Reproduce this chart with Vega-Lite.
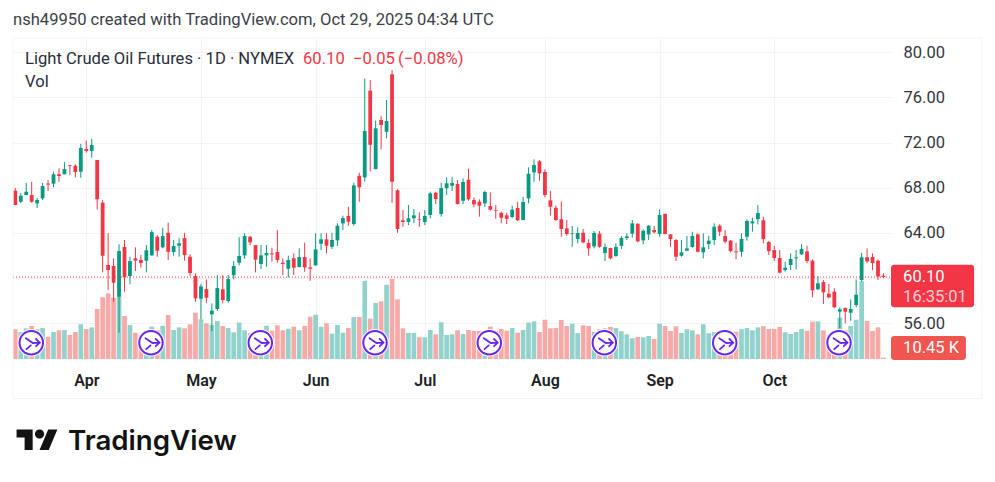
{
  "$schema": "https://vega.github.io/schema/vega-lite/v6.json",
  "description": "Light Crude Oil Futures daily candles with volume, TradingView snapshot.",
  "width": 878,
  "height": 322,
  "autosize": "none",
  "padding": {"left": 13, "top": 38, "right": 104, "bottom": 122},
  "background": "#ffffff",
  "config": {"font": "Roboto", "view": {"stroke": null}},
  "title": {
    "text": "nsh49950 created with TradingView.com, Oct 29, 2025 04:34 UTC",
    "anchor": "start",
    "frame": "group",
    "font": "Roboto",
    "fontSize": 16.6,
    "fontWeight": "normal",
    "color": "#3c3f48",
    "offset": 9
  },
  "datasets": {
    "candles": [
      {"i":0,"o":67.74,"h":67.97,"l":66.47,"c":66.47,"v":222,"d":"down"},
      {"i":1,"o":66.76,"h":67.53,"l":66.65,"c":67.29,"v":201,"d":"up"},
      {"i":2,"o":67.36,"h":68.42,"l":67.36,"c":67.65,"v":229,"d":"up"},
      {"i":3,"o":67.36,"h":68.53,"l":66.68,"c":66.76,"v":246,"d":"down"},
      {"i":4,"o":66.62,"h":67.09,"l":66.21,"c":66.91,"v":222,"d":"up"},
      {"i":5,"o":67.06,"h":68.44,"l":66.91,"c":68.15,"v":231,"d":"up"},
      {"i":6,"o":68.37,"h":68.68,"l":67.71,"c":68.28,"v":166,"d":"down"},
      {"i":7,"o":68.36,"h":69.42,"l":68.04,"c":69.19,"v":201,"d":"up"},
      {"i":8,"o":69.19,"h":69.72,"l":68.53,"c":69.04,"v":214,"d":"down"},
      {"i":9,"o":69.19,"h":70.27,"l":69.19,"c":69.65,"v":216,"d":"up"},
      {"i":10,"o":70.01,"h":70.04,"l":69.15,"c":69.95,"v":179,"d":"down"},
      {"i":11,"o":69.95,"h":70.07,"l":68.92,"c":69.39,"v":201,"d":"down"},
      {"i":12,"o":69.42,"h":71.87,"l":68.89,"c":71.51,"v":259,"d":"up"},
      {"i":13,"o":71.42,"h":72.16,"l":71.10,"c":71.25,"v":224,"d":"down"},
      {"i":14,"o":71.25,"h":72.33,"l":70.65,"c":71.78,"v":236,"d":"up"},
      {"i":15,"o":70.45,"h":70.45,"l":66.09,"c":66.98,"v":373,"d":"down"},
      {"i":16,"o":66.68,"h":66.91,"l":60.52,"c":61.99,"v":460,"d":"down"},
      {"i":17,"o":61.17,"h":63.97,"l":58.96,"c":60.72,"v":490,"d":"down"},
      {"i":18,"o":61.08,"h":61.76,"l":57.92,"c":59.60,"v":457,"d":"down"},
      {"i":19,"o":58.36,"h":63.00,"l":55.18,"c":62.40,"v":465,"d":"up"},
      {"i":20,"o":62.76,"h":63.38,"l":58.81,"c":60.08,"v":321,"d":"down"},
      {"i":21,"o":60.19,"h":61.90,"l":59.46,"c":61.52,"v":254,"d":"up"},
      {"i":22,"o":61.76,"h":62.73,"l":60.64,"c":61.55,"v":196,"d":"down"},
      {"i":23,"o":61.61,"h":62.05,"l":60.93,"c":61.34,"v":179,"d":"down"},
      {"i":24,"o":61.55,"h":62.93,"l":60.52,"c":62.47,"v":216,"d":"up"},
      {"i":25,"o":62.02,"h":64.26,"l":61.99,"c":64.08,"v":241,"d":"up"},
      {"i":26,"o":63.67,"h":63.82,"l":61.90,"c":62.43,"v":216,"d":"down"},
      {"i":27,"o":62.73,"h":64.46,"l":62.64,"c":63.73,"v":248,"d":"up"},
      {"i":28,"o":64.02,"h":64.91,"l":61.61,"c":62.34,"v":328,"d":"down"},
      {"i":29,"o":62.32,"h":63.38,"l":61.99,"c":62.85,"v":216,"d":"up"},
      {"i":30,"o":62.87,"h":63.53,"l":61.90,"c":63.09,"v":236,"d":"up"},
      {"i":31,"o":63.55,"h":64.02,"l":61.55,"c":62.05,"v":229,"d":"down"},
      {"i":32,"o":61.90,"h":62.11,"l":60.19,"c":60.46,"v":259,"d":"down"},
      {"i":33,"o":60.19,"h":60.43,"l":57.92,"c":58.22,"v":345,"d":"down"},
      {"i":34,"o":58.19,"h":59.49,"l":56.37,"c":59.28,"v":296,"d":"up"},
      {"i":35,"o":59.04,"h":59.90,"l":57.83,"c":58.28,"v":266,"d":"down"},
      {"i":36,"o":56.81,"h":57.78,"l":55.33,"c":57.13,"v":254,"d":"up"},
      {"i":37,"o":57.28,"h":60.28,"l":57.10,"c":59.13,"v":283,"d":"up"},
      {"i":38,"o":59.02,"h":60.28,"l":57.78,"c":58.07,"v":246,"d":"down"},
      {"i":39,"o":57.98,"h":60.28,"l":57.84,"c":59.93,"v":231,"d":"up"},
      {"i":40,"o":60.26,"h":61.52,"l":59.90,"c":61.08,"v":199,"d":"up"},
      {"i":41,"o":61.37,"h":63.62,"l":61.14,"c":61.96,"v":271,"d":"up"},
      {"i":42,"o":62.02,"h":63.97,"l":61.72,"c":63.73,"v":214,"d":"up"},
      {"i":43,"o":63.67,"h":63.73,"l":62.93,"c":63.17,"v":192,"d":"down"},
      {"i":44,"o":62.93,"h":62.93,"l":60.52,"c":61.64,"v":192,"d":"down"},
      {"i":45,"o":61.26,"h":62.93,"l":60.81,"c":62.02,"v":216,"d":"up"},
      {"i":46,"o":62.02,"h":62.93,"l":61.02,"c":62.23,"v":248,"d":"up"},
      {"i":47,"o":62.20,"h":62.70,"l":61.46,"c":62.11,"v":211,"d":"down"},
      {"i":48,"o":62.32,"h":64.26,"l":61.37,"c":61.61,"v":251,"d":"down"},
      {"i":49,"o":61.37,"h":61.76,"l":60.28,"c":61.26,"v":214,"d":"down"},
      {"i":50,"o":60.84,"h":61.99,"l":60.08,"c":61.61,"v":226,"d":"up"},
      {"i":51,"o":61.76,"h":62.20,"l":60.28,"c":60.93,"v":241,"d":"down"},
      {"i":52,"o":60.99,"h":62.64,"l":60.96,"c":61.87,"v":214,"d":"up"},
      {"i":53,"o":61.87,"h":63.14,"l":60.57,"c":60.96,"v":248,"d":"down"},
      {"i":54,"o":60.96,"h":61.76,"l":59.78,"c":60.84,"v":316,"d":"down"},
      {"i":55,"o":61.14,"h":63.97,"l":61.10,"c":62.55,"v":330,"d":"up"},
      {"i":56,"o":63.05,"h":63.97,"l":62.49,"c":63.44,"v":241,"d":"up"},
      {"i":57,"o":63.44,"h":63.97,"l":62.20,"c":62.87,"v":266,"d":"down"},
      {"i":58,"o":62.78,"h":64.02,"l":62.58,"c":63.38,"v":189,"d":"up"},
      {"i":59,"o":63.35,"h":64.85,"l":62.85,"c":64.64,"v":254,"d":"up"},
      {"i":60,"o":64.85,"h":65.53,"l":64.26,"c":65.32,"v":196,"d":"up"},
      {"i":61,"o":65.50,"h":66.32,"l":64.64,"c":65.00,"v":231,"d":"down"},
      {"i":62,"o":64.79,"h":68.44,"l":64.64,"c":68.21,"v":313,"d":"up"},
      {"i":63,"o":69.06,"h":69.33,"l":66.76,"c":68.04,"v":313,"d":"down"},
      {"i":64,"o":68.92,"h":77.64,"l":68.53,"c":73.01,"v":584,"d":"up"},
      {"i":65,"o":76.58,"h":77.52,"l":69.42,"c":71.80,"v":301,"d":"down"},
      {"i":66,"o":69.65,"h":73.93,"l":69.63,"c":73.25,"v":418,"d":"up"},
      {"i":67,"o":73.99,"h":74.34,"l":71.40,"c":73.55,"v":430,"d":"down"},
      {"i":68,"o":72.95,"h":75.76,"l":72.37,"c":73.90,"v":554,"d":"up"},
      {"i":69,"o":78.03,"h":78.41,"l":66.68,"c":68.53,"v":597,"d":"down"},
      {"i":70,"o":67.77,"h":67.86,"l":64.02,"c":64.35,"v":445,"d":"down"},
      {"i":71,"o":65.12,"h":66.03,"l":64.55,"c":64.97,"v":229,"d":"down"},
      {"i":72,"o":64.97,"h":66.47,"l":64.70,"c":65.30,"v":194,"d":"up"},
      {"i":73,"o":65.30,"h":66.12,"l":64.85,"c":65.56,"v":194,"d":"up"},
      {"i":74,"o":65.23,"h":65.83,"l":64.55,"c":65.17,"v":162,"d":"down"},
      {"i":75,"o":64.97,"h":66.03,"l":64.70,"c":65.50,"v":162,"d":"up"},
      {"i":76,"o":65.59,"h":67.65,"l":65.30,"c":67.51,"v":216,"d":"up"},
      {"i":77,"o":67.56,"h":67.65,"l":66.56,"c":67.00,"v":184,"d":"down"},
      {"i":78,"o":65.68,"h":68.44,"l":65.44,"c":67.97,"v":274,"d":"up"},
      {"i":79,"o":67.95,"h":68.92,"l":67.36,"c":68.39,"v":179,"d":"up"},
      {"i":80,"o":68.18,"h":68.97,"l":67.71,"c":68.42,"v":184,"d":"up"},
      {"i":81,"o":68.33,"h":68.68,"l":66.53,"c":66.56,"v":214,"d":"down"},
      {"i":82,"o":66.85,"h":68.83,"l":66.56,"c":68.51,"v":187,"d":"up"},
      {"i":83,"o":68.71,"h":69.68,"l":66.85,"c":66.98,"v":216,"d":"down"},
      {"i":84,"o":66.91,"h":67.15,"l":66.27,"c":66.53,"v":211,"d":"down"},
      {"i":85,"o":66.76,"h":66.98,"l":65.44,"c":66.41,"v":209,"d":"down"},
      {"i":86,"o":66.62,"h":67.74,"l":66.32,"c":67.62,"v":204,"d":"up"},
      {"i":87,"o":66.38,"h":67.59,"l":65.97,"c":66.06,"v":241,"d":"down"},
      {"i":88,"o":66.03,"h":66.47,"l":65.26,"c":65.97,"v":211,"d":"down"},
      {"i":89,"o":65.79,"h":65.88,"l":64.85,"c":65.35,"v":224,"d":"down"},
      {"i":90,"o":65.56,"h":65.79,"l":64.79,"c":65.26,"v":211,"d":"down"},
      {"i":91,"o":65.41,"h":66.41,"l":65.30,"c":66.06,"v":231,"d":"up"},
      {"i":92,"o":66.21,"h":66.76,"l":65.06,"c":65.12,"v":196,"d":"down"},
      {"i":93,"o":65.15,"h":67.21,"l":65.12,"c":66.74,"v":216,"d":"up"},
      {"i":94,"o":67.06,"h":69.81,"l":66.62,"c":69.24,"v":271,"d":"up"},
      {"i":95,"o":69.36,"h":70.51,"l":68.53,"c":70.01,"v":281,"d":"up"},
      {"i":96,"o":70.34,"h":70.45,"l":68.62,"c":69.27,"v":201,"d":"down"},
      {"i":97,"o":69.39,"h":69.63,"l":67.15,"c":67.36,"v":293,"d":"down"},
      {"i":98,"o":66.89,"h":67.74,"l":65.53,"c":66.32,"v":229,"d":"down"},
      {"i":99,"o":66.23,"h":66.41,"l":65.06,"c":65.15,"v":231,"d":"down"},
      {"i":100,"o":65.21,"h":66.80,"l":63.67,"c":64.35,"v":291,"d":"down"},
      {"i":101,"o":64.41,"h":65.15,"l":63.76,"c":63.91,"v":246,"d":"down"},
      {"i":102,"o":63.94,"h":64.62,"l":62.78,"c":64.00,"v":263,"d":"up"},
      {"i":103,"o":63.47,"h":64.50,"l":63.09,"c":64.00,"v":194,"d":"up"},
      {"i":104,"o":64.02,"h":64.35,"l":63.09,"c":63.17,"v":251,"d":"down"},
      {"i":105,"o":63.11,"h":63.44,"l":61.99,"c":62.64,"v":246,"d":"down"},
      {"i":106,"o":62.82,"h":64.17,"l":62.64,"c":64.00,"v":201,"d":"up"},
      {"i":107,"o":63.94,"h":64.17,"l":62.70,"c":62.78,"v":222,"d":"down"},
      {"i":108,"o":62.23,"h":63.09,"l":61.52,"c":62.76,"v":229,"d":"up"},
      {"i":109,"o":62.67,"h":62.70,"l":61.67,"c":61.76,"v":239,"d":"down"},
      {"i":110,"o":61.96,"h":63.09,"l":61.90,"c":62.76,"v":231,"d":"up"},
      {"i":111,"o":62.87,"h":63.73,"l":62.58,"c":63.55,"v":207,"d":"up"},
      {"i":112,"o":63.55,"h":63.97,"l":63.38,"c":63.70,"v":184,"d":"up"},
      {"i":113,"o":63.94,"h":65.15,"l":63.58,"c":64.85,"v":154,"d":"up"},
      {"i":114,"o":64.82,"h":64.85,"l":63.17,"c":63.26,"v":164,"d":"down"},
      {"i":115,"o":63.35,"h":64.32,"l":63.00,"c":64.20,"v":162,"d":"up"},
      {"i":116,"o":63.88,"h":64.70,"l":63.38,"c":64.64,"v":172,"d":"up"},
      {"i":117,"o":64.26,"h":64.62,"l":63.97,"c":64.06,"v":149,"d":"down"},
      {"i":118,"o":63.91,"h":66.09,"l":63.67,"c":65.59,"v":263,"d":"up"},
      {"i":119,"o":65.68,"h":65.74,"l":63.88,"c":63.91,"v":246,"d":"down"},
      {"i":120,"o":63.88,"h":63.91,"l":62.78,"c":63.47,"v":209,"d":"down"},
      {"i":121,"o":63.38,"h":63.47,"l":61.52,"c":61.90,"v":244,"d":"down"},
      {"i":122,"o":61.99,"h":63.38,"l":61.90,"c":62.29,"v":194,"d":"up"},
      {"i":123,"o":62.43,"h":63.73,"l":62.40,"c":62.64,"v":222,"d":"up"},
      {"i":124,"o":62.76,"h":64.11,"l":62.70,"c":63.73,"v":214,"d":"up"},
      {"i":125,"o":63.88,"h":63.97,"l":62.29,"c":62.34,"v":184,"d":"down"},
      {"i":126,"o":62.29,"h":63.97,"l":61.76,"c":62.73,"v":259,"d":"up"},
      {"i":127,"o":63.02,"h":63.76,"l":62.58,"c":63.32,"v":192,"d":"up"},
      {"i":128,"o":63.38,"h":64.85,"l":62.93,"c":64.55,"v":201,"d":"up"},
      {"i":129,"o":64.64,"h":64.77,"l":63.73,"c":64.11,"v":192,"d":"down"},
      {"i":130,"o":63.73,"h":64.26,"l":63.09,"c":63.23,"v":192,"d":"down"},
      {"i":131,"o":63.32,"h":63.38,"l":62.29,"c":62.40,"v":204,"d":"down"},
      {"i":132,"o":62.37,"h":63.14,"l":61.67,"c":62.29,"v":204,"d":"down"},
      {"i":133,"o":62.34,"h":63.97,"l":61.90,"c":63.47,"v":222,"d":"up"},
      {"i":134,"o":63.67,"h":65.21,"l":63.32,"c":65.06,"v":231,"d":"up"},
      {"i":135,"o":64.85,"h":65.35,"l":64.11,"c":65.03,"v":214,"d":"up"},
      {"i":136,"o":65.23,"h":66.47,"l":64.77,"c":65.76,"v":236,"d":"up"},
      {"i":137,"o":65.12,"h":65.44,"l":63.09,"c":63.47,"v":244,"d":"down"},
      {"i":138,"o":63.20,"h":63.29,"l":62.05,"c":62.40,"v":224,"d":"down"},
      {"i":139,"o":62.49,"h":62.87,"l":61.55,"c":61.79,"v":224,"d":"down"},
      {"i":140,"o":61.79,"h":62.49,"l":60.43,"c":60.49,"v":239,"d":"down"},
      {"i":141,"o":60.72,"h":61.46,"l":60.57,"c":60.93,"v":199,"d":"up"},
      {"i":142,"o":61.17,"h":62.20,"l":60.72,"c":61.70,"v":187,"d":"up"},
      {"i":143,"o":61.76,"h":62.49,"l":60.79,"c":61.85,"v":201,"d":"up"},
      {"i":144,"o":62.11,"h":63.02,"l":62.05,"c":62.58,"v":224,"d":"up"},
      {"i":145,"o":62.37,"h":62.87,"l":61.32,"c":61.52,"v":211,"d":"down"},
      {"i":146,"o":61.55,"h":61.67,"l":58.31,"c":58.93,"v":278,"d":"down"},
      {"i":147,"o":59.02,"h":60.19,"l":58.96,"c":59.55,"v":281,"d":"up"},
      {"i":148,"o":59.66,"h":59.84,"l":57.72,"c":58.75,"v":214,"d":"down"},
      {"i":149,"o":58.63,"h":59.49,"l":58.22,"c":58.31,"v":179,"d":"down"},
      {"i":150,"o":58.81,"h":59.11,"l":57.34,"c":57.43,"v":204,"d":"down"},
      {"i":151,"o":57.04,"h":57.43,"l":55.57,"c":57.25,"v":308,"d":"up"},
      {"i":152,"o":57.36,"h":57.43,"l":56.01,"c":57.04,"v":216,"d":"down"},
      {"i":153,"o":56.95,"h":58.13,"l":56.24,"c":57.28,"v":246,"d":"up"},
      {"i":154,"o":57.63,"h":59.90,"l":57.43,"c":58.54,"v":293,"d":"up"},
      {"i":155,"o":59.84,"h":62.25,"l":59.69,"c":61.85,"v":580,"d":"up"},
      {"i":156,"o":61.85,"h":62.64,"l":61.32,"c":61.49,"v":283,"d":"down"},
      {"i":157,"o":61.87,"h":62.20,"l":60.72,"c":61.34,"v":209,"d":"down"},
      {"i":158,"o":61.55,"h":61.67,"l":59.84,"c":60.15,"v":236,"d":"down"},
      {"i":159,"o":60.22,"h":60.43,"l":60.00,"c":60.10,"v":10.45,"d":"down"}
    ],
    "rolls": [
      {"i":2.93,"p":54.3},
      {"i":24.85,"p":54.3},
      {"i":44.87,"p":54.3},
      {"i":65.88,"p":54.3},
      {"i":86.81,"p":54.3},
      {"i":107.88,"p":54.3},
      {"i":129.93,"p":54.3},
      {"i":150.86,"p":54.3}
    ]
  },
  "data": {"name": "candles"},
  "encoding": {
    "x": {
      "field": "i",
      "type": "quantitative",
      "scale": {"domain": [-0.42, 160.38], "nice": false, "zero": false, "padding": 0},
      "axis": {
        "title": null,
        "values": [13, 34, 55, 75, 97, 118, 139],
        "labelExpr": "{'13':'Apr','34':'May','55':'Jun','75':'Jul','97':'Aug','118':'Sep','139':'Oct'}[datum.value]",
        "grid": true,
        "gridColor": "#f3f3f4",
        "gridWidth": 1,
        "domain": false,
        "ticks": false,
        "labelFont": "Roboto",
        "labelFontSize": 16,
        "labelFontWeight": 600,
        "labelColor": "#1c1e24",
        "labelPadding": 12,
        "labelFlush": false
      }
    }
  },
  "layer": [
    {
      "mark": {"type": "bar", "size": 4.7, "orient": "vertical"},
      "encoding": {
        "y": {
          "field": "v",
          "type": "quantitative",
          "stack": null,
          "scale": {"domain": [-7.46, 2394.7], "nice": false, "zero": false},
          "axis": null
        },
        "y2": {"datum": 0},
        "color": {
          "field": "d",
          "type": "nominal",
          "scale": {"domain": ["up", "down"], "range": ["#92d2cc", "#f7a9a7"]},
          "legend": null
        }
      }
    },
    {
      "encoding": {
        "y": {
          "type": "quantitative",
          "scale": {"domain": [52.77, 81.24], "nice": false, "zero": false},
          "axis": {
            "title": null,
            "orient": "right",
            "values": [56, 60, 64, 68, 72, 76, 80],
            "labelExpr": "datum.value == 60 ? '' : format(datum.value, '.2f')",
            "grid": true,
            "gridColor": "#f3f3f4",
            "gridWidth": 1,
            "domain": false,
            "ticks": false,
            "labelFont": "Roboto",
            "labelFontSize": 16.5,
            "labelColor": "#333640",
            "labelPadding": 12
          }
        }
      },
      "layer": [
        {
          "mark": {"type": "rule", "strokeWidth": 1},
          "encoding": {
            "y": {"field": "h"},
            "y2": {"field": "l"},
            "color": {
              "field": "d",
              "type": "nominal",
              "scale": {"domain": ["up", "down"], "range": ["#089981", "#f23645"]},
              "legend": null
            }
          }
        },
        {
          "mark": {"type": "bar", "size": 3.8, "orient": "vertical"},
          "encoding": {
            "y": {"field": "o"},
            "y2": {"field": "c"},
            "color": {
              "field": "d",
              "type": "nominal",
              "scale": {"domain": ["up", "down"], "range": ["#089981", "#f23645"]},
              "legend": null
            }
          }
        },
        {
          "data": {"values": [{"p": 60.1}]},
          "mark": {"type": "rule", "color": "#f23645", "strokeWidth": 1, "strokeDash": [1, 2]},
          "encoding": {"x": {"value": 0}, "x2": {"value": 878}, "y": {"field": "p"}}
        },
        {
          "data": {"values": [{"i": -0.42, "i2": 177.0, "p": 81.24, "p2": 49.36}]},
          "mark": {"type": "rect", "fillOpacity": 0, "stroke": "#f3f3f4", "strokeWidth": 1},
          "encoding": {"x2": {"field": "i2"}, "y": {"field": "p"}, "y2": {"field": "p2"}}
        },
        {
          "data": {"values": [{"i": 160.38, "i2": 175.6, "p": 61.19, "p2": 57.43}]},
          "mark": {"type": "rect", "color": "#f23645", "cornerRadius": 3},
          "encoding": {"x2": {"field": "i2"}, "y": {"field": "p"}, "y2": {"field": "p2"}}
        },
        {
          "data": {"values": [{"i": 160.38, "i2": 174.1, "p": 54.89, "p2": 52.77}]},
          "mark": {"type": "rect", "color": "#f0564f", "cornerRadius": 3},
          "encoding": {"x2": {"field": "i2"}, "y": {"field": "p"}, "y2": {"field": "p2"}}
        },
        {
          "data": {"values": [
            {"i": 162.6, "p": 60.1, "t": "60.10"},
            {"i": 162.6, "p": 53.85, "t": "10.45 K"}
          ]},
          "mark": {"type": "text", "align": "left", "baseline": "middle", "font": "Roboto", "fontSize": 16.5, "color": "#ffffff"},
          "encoding": {"y": {"field": "p"}, "text": {"field": "t"}}
        },
        {
          "data": {"values": [{"i": 162.6, "p": 58.33, "t": "16:35:01"}]},
          "mark": {"type": "text", "align": "left", "baseline": "middle", "font": "Roboto", "fontSize": 16.5, "color": "#ffffff", "opacity": 0.75},
          "encoding": {"y": {"field": "p"}, "text": {"field": "t"}}
        },
        {
          "data": {"values": [
            {"i": 1.78, "p": 79.38, "t": "Light Crude Oil Futures · 1D · NYMEX"},
            {"i": 1.78, "p": 77.35, "t": "Vol"}
          ]},
          "mark": {"type": "text", "align": "left", "baseline": "middle", "font": "Roboto", "fontSize": 16.6, "color": "#2a2e39"},
          "encoding": {"y": {"field": "p"}, "text": {"field": "t"}}
        },
        {
          "data": {"values": [
            {"i": 52.7, "p": 79.38, "t": "60.10"},
            {"i": 61.85, "p": 79.38, "t": "−0.05"},
            {"i": 70.1, "p": 79.38, "t": "(−0.08%)"}
          ]},
          "mark": {"type": "text", "align": "left", "baseline": "middle", "font": "Roboto", "fontSize": 16.6, "color": "#f23645"},
          "encoding": {"y": {"field": "p"}, "text": {"field": "t"}}
        },
        {
          "data": {"name": "rolls"},
          "mark": {"type": "point", "shape": "circle", "filled": true, "color": "#ffffff", "size": 755, "opacity": 1},
          "encoding": {"y": {"field": "p"}}
        },
        {
          "data": {"name": "rolls"},
          "mark": {"type": "point", "shape": "circle", "filled": false, "stroke": "#6726ef", "strokeWidth": 2, "size": 551, "opacity": 1},
          "encoding": {"y": {"field": "p"}}
        },
        {
          "data": {"name": "rolls"},
          "mark": {
            "type": "point",
            "shape": "M-0.55,-0.45 L0.15,0.03 L0.85,0 M0.47,-0.37 L0.85,0 L0.47,0.35 M-0.48,0.65 L-0.05,0.27",
            "filled": false,
            "stroke": "#6726ef",
            "strokeWidth": 1.8,
            "strokeCap": "round",
            "size": 400,
            "opacity": 1
          },
          "encoding": {"y": {"field": "p"}}
        },
        {
          "data": {"values": [{"i": 3.97, "p": 45.72}]},
          "mark": {
            "type": "point",
            "shape": "M-0.211,0.507 L-0.606,0.507 L-0.606,-0.113 L-1,-0.113 L-1,-0.507 L-0.211,-0.507 Z M0.577,0.507 L0.127,0.507 L0.549,-0.507 L1,-0.507 Z M-0.098,-0.282 A0.225,0.225 0 1 1 0.352,-0.282 A0.225,0.225 0 1 1 -0.098,-0.282 Z",
            "filled": true,
            "color": "#131313",
            "size": 1665,
            "opacity": 1
          },
          "encoding": {"y": {"field": "p"}}
        },
        {
          "data": {"values": [{"i": 9.65, "p": 44.81, "t": "TradingView"}]},
          "mark": {"type": "text", "align": "left", "baseline": "alphabetic", "font": "Inter", "fontSize": 27.7, "fontWeight": 600, "color": "#131313"},
          "encoding": {"y": {"field": "p"}, "text": {"field": "t"}}
        }
      ]
    }
  ],
  "resolve": {"scale": {"y": "independent", "color": "independent"}}
}
